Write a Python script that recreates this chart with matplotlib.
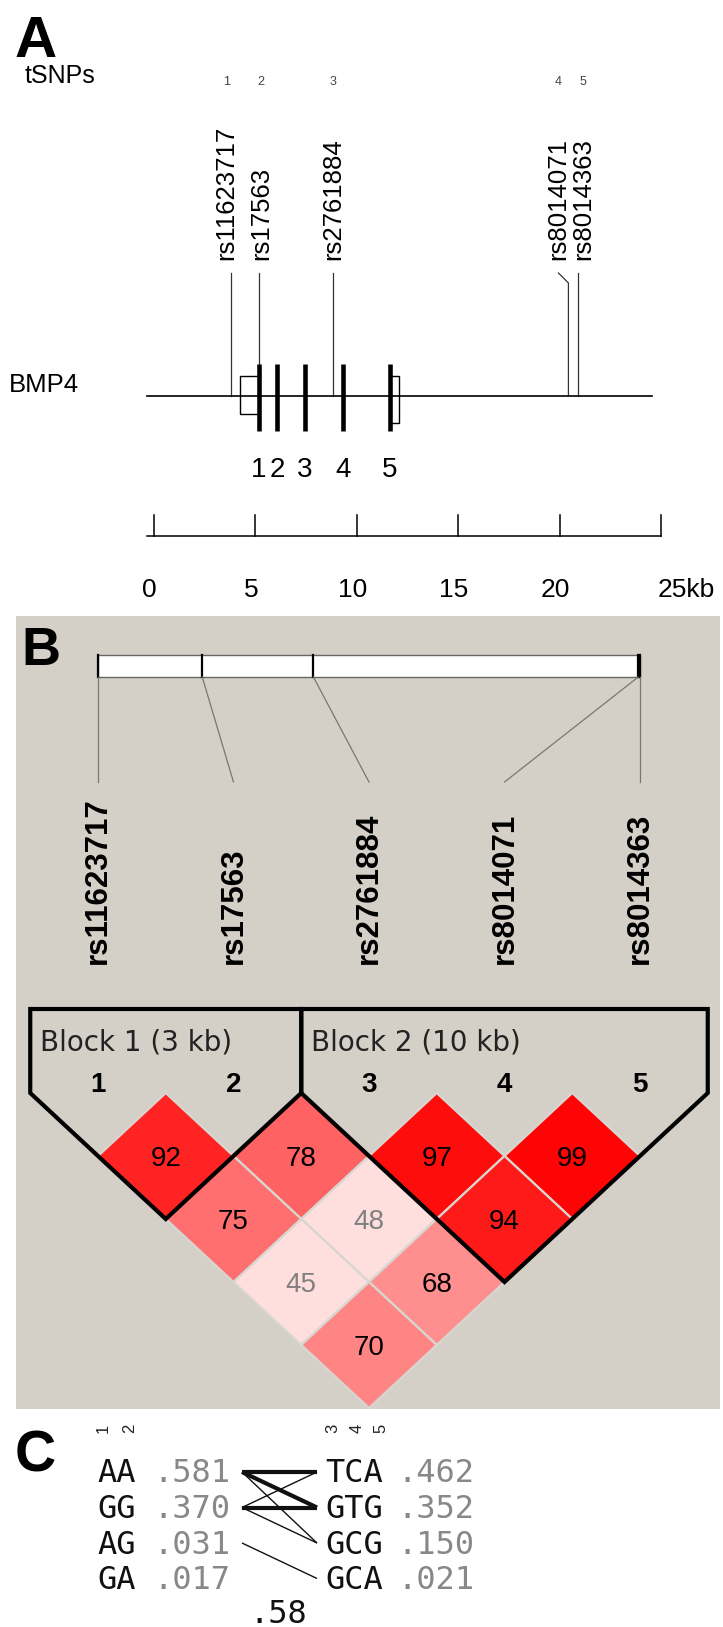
import matplotlib
matplotlib.use("Agg")
import matplotlib.pyplot as plt
from matplotlib.patches import Rectangle, Polygon

# ---------------- data ----------------
snp_ids = ["rs11623717", "rs17563", "rs2761884", "rs8014071", "rs8014363"]
snp_num = ["1", "2", "3", "4", "5"]
snp_kb_gene = [3.79, 5.19, 8.83, 20.44, 20.90]      # position on BMP4 schematic (kb)
exon_kb = [5.19, 6.07, 7.45, 9.33, 11.64]
exon_names = ["1", "2", "3", "4", "5"]
utr5_kb = (4.25, 5.19)
utr3_kb = (11.64, 12.10)
gene_span_kb = (-0.34, 24.55)
scale_ticks = [0, 5, 10, 15, 20, 25]

snp_kb_ld = [0.0, 3.0, 6.2, 15.55, 15.6]             # relative positions in LD plot bar
ld_pairs = [(1, 2), (2, 3), (3, 4), (4, 5), (1, 3), (2, 4), (3, 5), (1, 4), (2, 5), (1, 5)]
ld_dprime = [92, 78, 97, 99, 75, 48, 94, 45, 68, 70]
blocks = [[1, 2], [3, 4, 5]]
block_names = ["Block 1 (3 kb)", "Block 2 (10 kb)"]

hap_left = ["AA", "GG", "AG", "GA"]
hap_left_freq = [0.581, 0.370, 0.031, 0.017]
hap_right = ["TCA", "GTG", "GCG", "GCA"]
hap_right_freq = [0.462, 0.352, 0.150, 0.021]
links = [(0, 0), (0, 1), (0, 2), (1, 1), (1, 0), (1, 2), (2, 3)]
link_strong = [True, True, False, True, False, False, False]
left_markers = ["1", "2"]
right_markers = ["3", "4", "5"]
multi_dprime = 0.58

# ---------------- figure ----------------
W, H = 723, 1627
SANS = "Liberation Sans"
MONO = "DejaVu Sans Mono"
fig = plt.figure(figsize=(W / 100, H / 100), dpi=100)
fig.patch.set_facecolor("white")


def layer(name, xlim, ylim):
    ax = fig.add_axes([0, 0, 1, 1], label=name)
    ax.set_xlim(*xlim)
    ax.set_ylim(*ylim)
    ax.axis("off")
    return ax


base = layer("base", (0, W), (H, 0))
base.add_patch(Rectangle((16, 616), 704, 793, facecolor="#d4d0c8", edgecolor="none"))
base.text(15, 57, "A", fontsize=42, fontweight="bold", family=SANS, va="baseline")
base.text(21, 665, "B", fontsize=39, fontweight="bold", family=SANS, va="baseline")
base.text(15, 1471, "C", fontsize=41, fontweight="bold", family=SANS, va="baseline")
base.text(25, 83, "tSNPs", fontsize=18, family=SANS, va="baseline")
base.text(9, 392, "BMP4", fontsize=18.5, family=SANS, va="baseline")

# ---------------- panel A: gene schematic ----------------
kb0, kb_px = 153.7, 20.29
axA = layer("A", (-kb0 / kb_px, (W - kb0) / kb_px), (H, 0))
label_shift_px = [-4, 2, 0, -10, 5]
line_y = 396
for k, x in enumerate(snp_kb_gene):
    lx = x + label_shift_px[k] / kb_px
    axA.text(lx, 260, snp_ids[k], rotation=90, ha="center", va="bottom",
             fontsize=18.5, family=SANS)
    axA.text(lx, 85, snp_num[k], ha="center", va="baseline", fontsize=9,
             family=SANS, color="#444")
    if abs(label_shift_px[k]) > 6:
        axA.plot([lx, x, x], [273, 283, line_y], color="#333", lw=0.9)
    else:
        axA.plot([x, x], [273, line_y], color="#333", lw=0.9)

axA.plot(gene_span_kb, [line_y, line_y], color="black", lw=1.2)
axA.add_patch(Rectangle((utr5_kb[0], 376), utr5_kb[1] - utr5_kb[0], 38,
                        facecolor="none", edgecolor="black", lw=1))
axA.add_patch(Rectangle((utr3_kb[0], 376), utr3_kb[1] - utr3_kb[0], 47,
                        facecolor="none", edgecolor="black", lw=1))
for x, name in zip(exon_kb, exon_names):
    axA.plot([x, x], [364, 431], color="black", lw=3.3, solid_capstyle="butt")
    axA.text(x, 477, name, ha="center", va="baseline", fontsize=20, family=SANS)

axA.plot([gene_span_kb[0], scale_ticks[-1]], [536, 536], color="black", lw=1.1)
for t in scale_ticks:
    axA.plot([t, t], [515, 536], color="black", lw=1.1)
    if t == scale_ticks[-1]:
        axA.text(t - 0.15, 597, f"{t}kb", ha="left", va="baseline", fontsize=19, family=SANS)
    else:
        axA.text(t - 0.2, 597, f"{t}", ha="center", va="baseline", fontsize=19, family=SANS)

# ---------------- panel B: LD plot ----------------
sx0, sdx = 98.0, 135.5
axB = layer("B", (1 - sx0 / sdx, 1 + (W - sx0) / sdx), (H, 0))
n = len(snp_ids)
span = snp_kb_ld[-1] - snp_kb_ld[0]
axB.add_patch(Rectangle((1, 655), n - 1, 22, facecolor="white", edgecolor="#666", lw=1))
for k, p in enumerate(snp_kb_ld):
    bx = 1 + (n - 1) * (p - snp_kb_ld[0]) / span
    axB.plot([bx, bx], [655, 677], color="black", lw=1.6)
    axB.plot([bx, k + 1], [677, 782], color="#777", lw=0.9)
    axB.text(k + 1, 964, snp_ids[k], rotation=90, ha="center", va="bottom",
             fontsize=22.5, fontweight="bold", family=SANS)


def ld_color(d):
    g = min(222, int(223 * 2 * (1 - d / 100))) / 255
    return (1.0, g, g)


row_y0, row_h = 1156, 63
for (i, j), d in zip(ld_pairs, ld_dprime):
    cx = (i + j) / 2
    cy = row_y0 + (j - i - 1) * row_h
    axB.add_patch(Polygon([(cx, cy - row_h), (cx + 0.5, cy), (cx, cy + row_h), (cx - 0.5, cy)],
                          closed=True, facecolor=ld_color(d), edgecolor="#d8d6d0", lw=1.6))
    axB.text(cx, cy + 10, str(d), ha="center", va="baseline", fontsize=20, family=SANS,
             color="#808080" if d < 50 else "black")

top_y = 1009
for blk, name in zip(blocks, block_names):
    a, b = blk[0], blk[-1]
    tri_y = row_y0 - row_h
    bot_y = row_y0 + (b - a - 1) * row_h + row_h
    axB.add_patch(Polygon([(a - 0.5, top_y), (b + 0.5, top_y), (b + 0.5, tri_y),
                           ((a + b) / 2, bot_y), (a - 0.5, tri_y)],
                          closed=True, facecolor="none", edgecolor="black", lw=3,
                          joinstyle="miter"))
    axB.text(a - 0.43, 1050, name, ha="left", va="baseline", fontsize=20, family="DejaVu Sans",
             color="#222")
for k in range(n):
    axB.text(k + 1, 1092, snp_num[k], ha="center", va="baseline", fontsize=20,
             fontweight="bold", family=SANS)

# ---------------- panel C: haplotypes ----------------
r0, rh = 1472, 35.5
axC = layer("C", (0, W), ((H - r0) / rh, -r0 / rh))
fs_c = 23
left_x, left_fx, right_x, right_fx = 97, 153, 325, 397
for k, m in enumerate(left_markers):
    axC.text(left_x + 6 + 27 * k, -1.24, m, rotation=90, ha="center", va="center",
             fontsize=12, family=SANS, color="#222")
for k, m in enumerate(right_markers):
    axC.text(right_x + 8 + 24 * k, -1.24, m, rotation=90, ha="center", va="center",
             fontsize=12, family=SANS, color="#222")

base_off = 10.5 / rh
for k in range(len(hap_left)):
    axC.text(left_x, k + base_off, hap_left[k], fontsize=fs_c, family=MONO, va="baseline", color="#111")
    axC.text(left_fx, k + base_off, f"{hap_left_freq[k]:.3f}"[1:], fontsize=fs_c, family=MONO,
             va="baseline", color="#888")
    axC.text(right_x, k + base_off, hap_right[k], fontsize=fs_c, family=MONO, va="baseline", color="#111")
    axC.text(right_fx, k + base_off, f"{hap_right_freq[k]:.3f}"[1:], fontsize=fs_c, family=MONO,
             va="baseline", color="#888")

for (a, b), strong in zip(links, link_strong):
    axC.plot([242, 317], [a, b], color="#111", lw=3 if strong else 1, solid_capstyle="butt")

axC.text(278, (1623 - r0) / rh, f"{multi_dprime:.2f}"[1:], ha="center", va="baseline",
         fontsize=fs_c, family=MONO, color="#111")

fig.savefig("out.png", dpi=100)
